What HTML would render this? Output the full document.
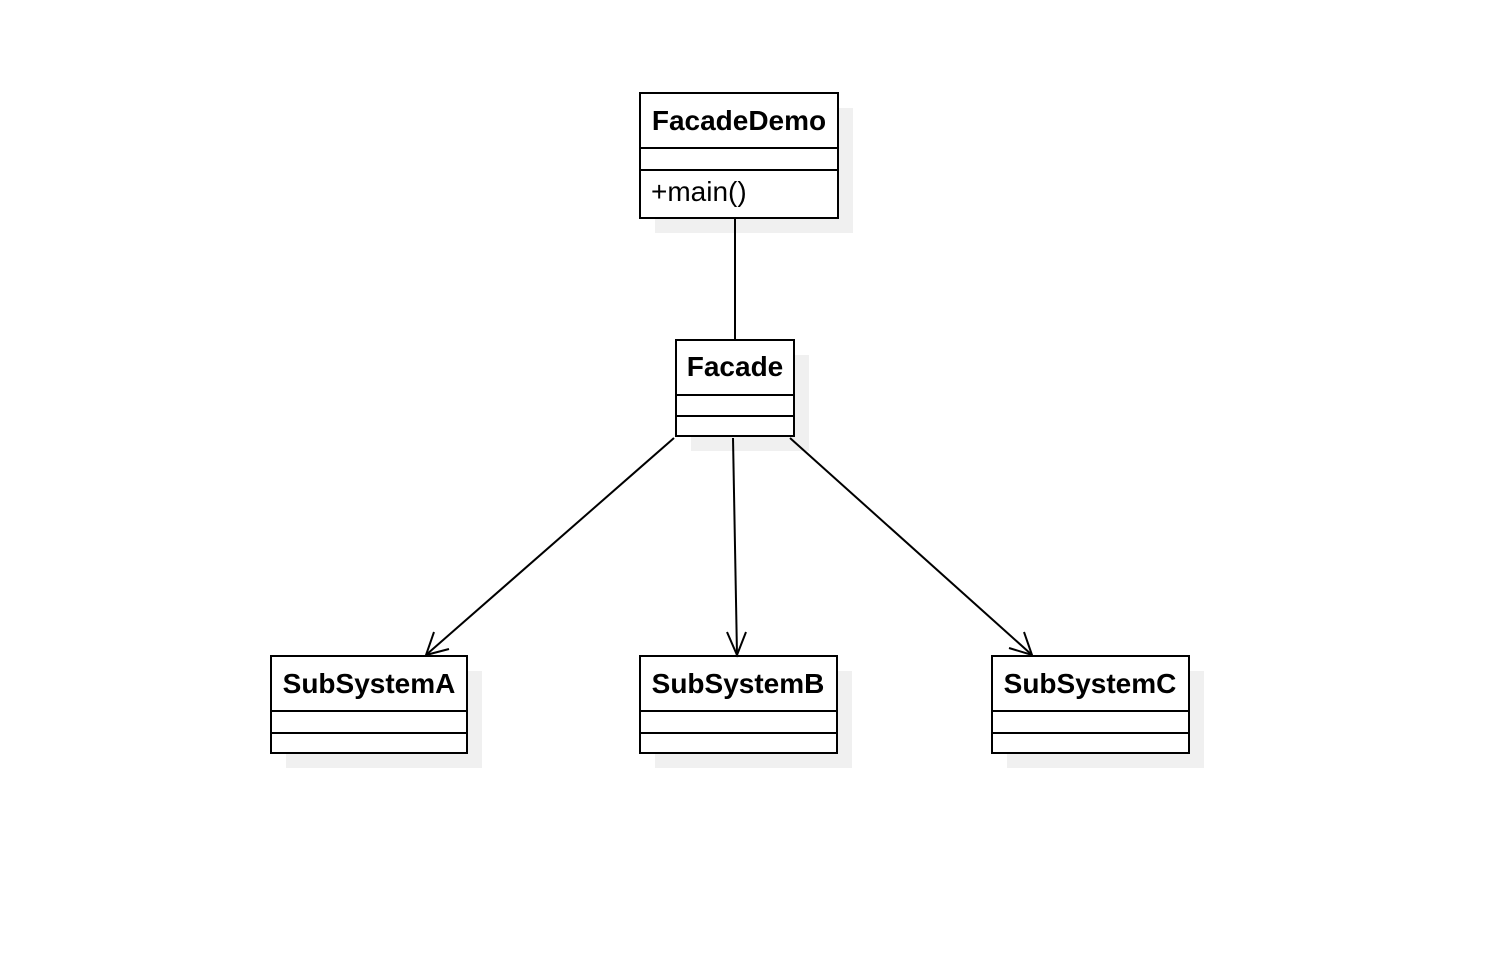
<!DOCTYPE html>
<html><head><style>
body{margin:0;background:#fff;}
svg{display:block}
text{font-family:"Liberation Sans",Arial,sans-serif;font-size:28px;fill:#000}
.b{font-weight:bold}
</style></head><body>
<svg width="1502" height="956" viewBox="0 0 1502 956">
<g fill="#f0f0f0">
<rect x="655" y="108" width="198" height="125"/>
<rect x="691" y="355" width="118" height="96"/>
<rect x="286" y="671" width="196" height="97"/>
<rect x="655" y="671" width="197" height="97"/>
<rect x="1007" y="671" width="197" height="97"/>
</g>
<g fill="#fff" stroke="#000" stroke-width="2">
<rect x="640" y="93" width="198" height="125"/>
<line x1="640" y1="148" x2="838" y2="148"/>
<line x1="640" y1="170" x2="838" y2="170"/>
<rect x="676" y="340" width="118" height="96"/>
<line x1="676" y1="395" x2="794" y2="395"/>
<line x1="676" y1="416" x2="794" y2="416"/>
<rect x="271" y="656" width="196" height="97"/>
<line x1="271" y1="711" x2="467" y2="711"/>
<line x1="271" y1="733" x2="467" y2="733"/>
<rect x="640" y="656" width="197" height="97"/>
<line x1="640" y1="711" x2="837" y2="711"/>
<line x1="640" y1="733" x2="837" y2="733"/>
<rect x="992" y="656" width="197" height="97"/>
<line x1="992" y1="711" x2="1189" y2="711"/>
<line x1="992" y1="733" x2="1189" y2="733"/>
</g>
<g fill="none" stroke="#000" stroke-width="2">
<line x1="735" y1="218" x2="735" y2="340"/>
<line x1="674" y1="438" x2="426" y2="655"/>
<polyline points="434,632 426,655 449,649"/>
<line x1="733" y1="438" x2="737" y2="655"/>
<polyline points="727,632 737,655 746,632"/>
<line x1="790" y1="438" x2="1032" y2="655"/>
<polyline points="1009,648 1032,655 1024,632"/>
</g>
<text class="b" x="739" y="130" text-anchor="middle">FacadeDemo</text>
<text x="651" y="201">+main()</text>
<text class="b" x="735" y="376" text-anchor="middle">Facade</text>
<text class="b" x="369" y="693" text-anchor="middle">SubSystemA</text>
<text class="b" x="738" y="693" text-anchor="middle">SubSystemB</text>
<text class="b" x="1090" y="693" text-anchor="middle">SubSystemC</text>
</svg>
</body></html>
